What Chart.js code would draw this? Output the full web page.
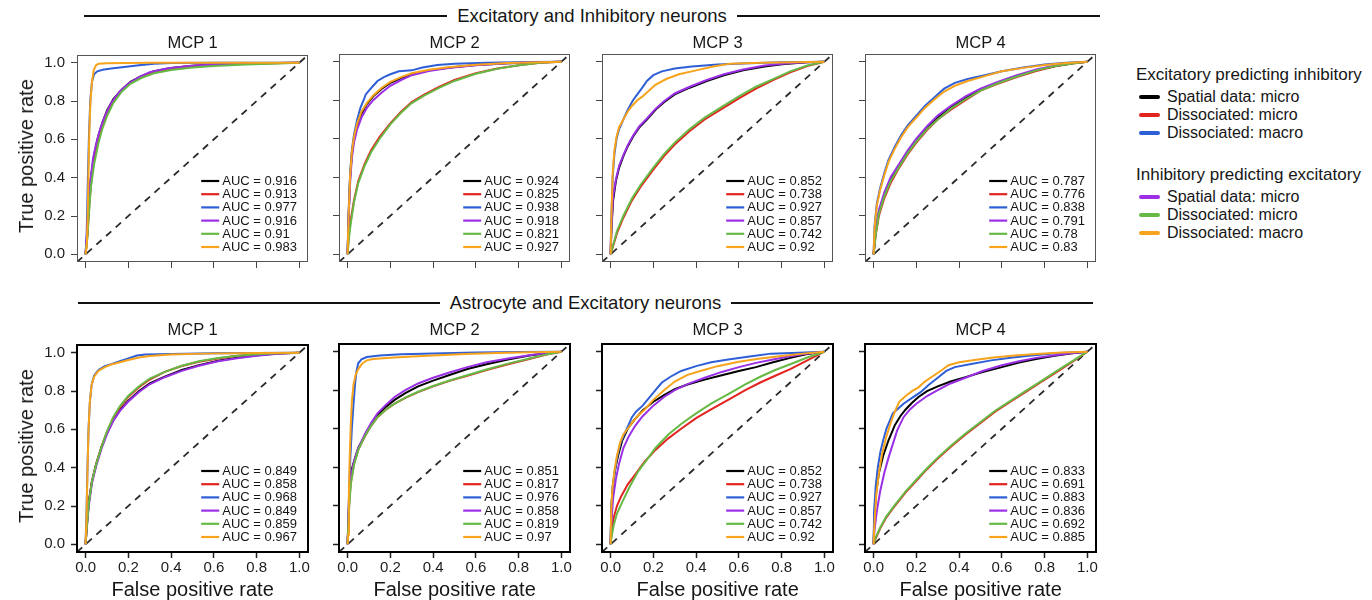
<!DOCTYPE html>
<html>
<head>
<meta charset="utf-8">
<script src="https://cdn.jsdelivr.net/npm/chart.js@4.4.1/dist/chart.umd.min.js"></script>
<style>
  html, body { margin: 0; padding: 0; background: #fff; }
  body { width: 1372px; height: 600px; position: relative; overflow: hidden;
         font-family: "Liberation Sans", Arial, Helvetica, sans-serif; color: #161616; }
  canvas { position: absolute; }
  .txt { position: absolute; white-space: nowrap; line-height: 24px; height: 24px; }
  .hdr { position: absolute; display: flex; align-items: center; height: 24px; }
  .hdr .rule { flex: 1; height: 2px; background: #111; }
  .hdr .label { padding: 0 10px; font-size: 18.5px; white-space: nowrap; }
  .ytitle { position: absolute; font-size: 20px; white-space: nowrap; line-height: 24px;
            transform: translate(-50%, -50%) rotate(-90deg); }
  .swatch { position: absolute; width: 21px; height: 4px; border-radius: 2px; }
</style>
</head>
<body>
<script>
// ---- series definitions ------------------------------------------------
const seriesColors = ['#000000', '#e3231f', '#2e5fd6', '#9a2fe6', '#66b944', '#f7a31c'];
const seriesNames  = ['Spatial data: micro', 'Dissociated: micro', 'Dissociated: macro',
                      'Spatial data: micro', 'Dissociated: micro', 'Dissociated: macro'];
const legendGroups = ['Excitatory predicting inhibitory', 'Inhibitory predicting excitatory'];
const rowTitles    = ['Excitatory and Inhibitory neurons', 'Astrocyte and Excitatory neurons'];
const panelTitles  = ['MCP 1', 'MCP 2', 'MCP 3', 'MCP 4'];
const axisTicks    = [0, 0.2, 0.4, 0.6, 0.8, 1.0];

// ---- AUC values (order: black, red, blue, purple, green, orange) -------
const aucEI1 = [0.916, 0.913, 0.977, 0.916, 0.91, 0.983];
const aucEI2 = [0.924, 0.825, 0.938, 0.918, 0.821, 0.927];
const aucEI3 = [0.852, 0.738, 0.927, 0.857, 0.742, 0.92];
const aucEI4 = [0.787, 0.776, 0.838, 0.791, 0.78, 0.83];
const aucAE1 = [0.849, 0.858, 0.968, 0.849, 0.859, 0.967];
const aucAE2 = [0.851, 0.817, 0.976, 0.858, 0.819, 0.97];
const aucAE3 = [0.852, 0.738, 0.927, 0.857, 0.742, 0.92];
const aucAE4 = [0.833, 0.691, 0.883, 0.836, 0.692, 0.885];

// ---- ROC curves: [false positive rate, true positive rate] -------------
// Excitatory and Inhibitory neurons
const ei1 = [
  [[0,0],[0.008,0.1],[0.015,0.25],[0.025,0.4],[0.04,0.52],[0.06,0.62],[0.08,0.69],[0.1,0.75],[0.13,0.81],[0.17,0.86],[0.21,0.9],[0.26,0.93],[0.32,0.955],[0.4,0.972],[0.5,0.984],[0.65,0.993],[0.8,0.997],[1,1]],
  [[0,0],[0.01,0.12],[0.018,0.27],[0.028,0.4],[0.04,0.5],[0.06,0.61],[0.08,0.68],[0.1,0.74],[0.13,0.8],[0.17,0.855],[0.21,0.895],[0.26,0.925],[0.32,0.95],[0.4,0.97],[0.5,0.982],[0.65,0.991],[0.8,0.996],[1,1]],
  [[0,0],[0.005,0.1],[0.01,0.35],[0.016,0.62],[0.022,0.8],[0.03,0.9],[0.04,0.94],[0.055,0.955],[0.08,0.963],[0.12,0.97],[0.18,0.978],[0.25,0.987],[0.32,0.994],[0.4,0.998],[0.6,1],[1,1]],
  [[0,0],[0.006,0.1],[0.012,0.22],[0.022,0.38],[0.035,0.5],[0.05,0.58],[0.07,0.66],[0.09,0.72],[0.12,0.79],[0.16,0.85],[0.2,0.89],[0.25,0.925],[0.3,0.95],[0.38,0.97],[0.48,0.983],[0.6,0.991],[0.8,0.997],[1,1]],
  [[0,0],[0.008,0.08],[0.015,0.2],[0.025,0.35],[0.04,0.47],[0.06,0.58],[0.08,0.66],[0.1,0.72],[0.13,0.79],[0.17,0.85],[0.21,0.89],[0.26,0.92],[0.32,0.945],[0.4,0.962],[0.5,0.975],[0.6,0.983],[0.75,0.99],[0.9,0.996],[1,1]],
  [[0,0],[0.006,0.05],[0.01,0.2],[0.014,0.45],[0.018,0.65],[0.023,0.8],[0.03,0.9],[0.038,0.96],[0.048,0.985],[0.06,0.994],[0.1,0.997],[0.3,0.999],[1,1]]
];
const ei2 = [
  [[0,0],[0.005,0.2],[0.012,0.4],[0.02,0.52],[0.03,0.6],[0.045,0.67],[0.065,0.73],[0.09,0.78],[0.12,0.82],[0.16,0.86],[0.2,0.89],[0.25,0.915],[0.3,0.935],[0.38,0.955],[0.48,0.97],[0.6,0.983],[0.75,0.992],[0.9,0.997],[1,1]],
  [[0,0],[0.006,0.1],[0.015,0.18],[0.03,0.28],[0.05,0.38],[0.08,0.47],[0.11,0.54],[0.15,0.61],[0.2,0.68],[0.25,0.74],[0.3,0.79],[0.36,0.83],[0.43,0.87],[0.5,0.905],[0.6,0.94],[0.7,0.965],[0.8,0.982],[0.9,0.994],[1,1]],
  [[0,0],[0.005,0.22],[0.012,0.42],[0.02,0.54],[0.03,0.62],[0.045,0.7],[0.06,0.76],[0.075,0.8],[0.085,0.83],[0.1,0.85],[0.12,0.875],[0.14,0.9],[0.17,0.92],[0.2,0.935],[0.24,0.95],[0.3,0.955],[0.35,0.97],[0.42,0.983],[0.5,0.99],[0.65,0.995],[0.85,0.998],[1,1]],
  [[0,0],[0.005,0.18],[0.012,0.37],[0.02,0.5],[0.03,0.58],[0.045,0.65],[0.065,0.71],[0.09,0.76],[0.12,0.8],[0.16,0.84],[0.2,0.875],[0.25,0.905],[0.3,0.93],[0.38,0.952],[0.48,0.968],[0.6,0.982],[0.75,0.992],[0.9,0.997],[1,1]],
  [[0,0],[0.006,0.08],[0.015,0.16],[0.03,0.27],[0.05,0.37],[0.08,0.46],[0.11,0.53],[0.15,0.6],[0.2,0.675],[0.25,0.735],[0.3,0.785],[0.36,0.825],[0.43,0.865],[0.5,0.9],[0.6,0.937],[0.7,0.963],[0.8,0.982],[0.9,0.994],[1,1]],
  [[0,0],[0.005,0.2],[0.012,0.41],[0.02,0.53],[0.03,0.61],[0.045,0.68],[0.065,0.74],[0.09,0.785],[0.12,0.825],[0.16,0.865],[0.2,0.895],[0.25,0.92],[0.3,0.94],[0.38,0.958],[0.48,0.972],[0.6,0.984],[0.75,0.993],[0.9,0.997],[1,1]]
];
const ei3 = [
  [[0,0],[0.005,0.15],[0.012,0.28],[0.025,0.38],[0.04,0.45],[0.06,0.51],[0.08,0.56],[0.105,0.61],[0.135,0.66],[0.17,0.7],[0.21,0.75],[0.25,0.79],[0.3,0.83],[0.37,0.865],[0.45,0.9],[0.53,0.93],[0.62,0.955],[0.72,0.975],[0.83,0.99],[0.92,0.997],[1,1]],
  [[0,0],[0.01,0.035],[0.03,0.11],[0.06,0.19],[0.1,0.28],[0.14,0.35],[0.2,0.44],[0.25,0.51],[0.3,0.57],[0.37,0.64],[0.44,0.7],[0.52,0.755],[0.6,0.81],[0.68,0.86],[0.76,0.905],[0.84,0.945],[0.92,0.978],[1,1]],
  [[0,0],[0.004,0.2],[0.01,0.4],[0.018,0.52],[0.028,0.6],[0.04,0.65],[0.06,0.7],[0.08,0.75],[0.105,0.8],[0.125,0.83],[0.145,0.86],[0.17,0.9],[0.2,0.93],[0.24,0.95],[0.3,0.965],[0.38,0.975],[0.5,0.985],[0.65,0.992],[0.8,0.997],[1,1]],
  [[0,0],[0.005,0.17],[0.012,0.3],[0.025,0.39],[0.04,0.46],[0.06,0.515],[0.08,0.565],[0.105,0.615],[0.135,0.665],[0.17,0.705],[0.21,0.755],[0.25,0.795],[0.3,0.835],[0.37,0.87],[0.45,0.905],[0.53,0.935],[0.62,0.96],[0.72,0.98],[0.83,0.992],[0.92,0.997],[1,1]],
  [[0,0],[0.01,0.04],[0.03,0.12],[0.06,0.2],[0.1,0.29],[0.14,0.36],[0.2,0.45],[0.25,0.52],[0.3,0.58],[0.37,0.65],[0.44,0.71],[0.52,0.765],[0.6,0.82],[0.68,0.87],[0.76,0.91],[0.84,0.95],[0.92,0.98],[1,1]],
  [[0,0],[0.004,0.2],[0.01,0.42],[0.018,0.54],[0.028,0.61],[0.04,0.66],[0.06,0.7],[0.08,0.74],[0.1,0.77],[0.125,0.8],[0.15,0.82],[0.18,0.85],[0.21,0.88],[0.26,0.91],[0.32,0.935],[0.4,0.955],[0.48,0.975],[0.56,0.99],[0.7,0.995],[1,1]]
];
const ei4 = [
  [[0,0],[0.01,0.12],[0.025,0.22],[0.05,0.31],[0.08,0.39],[0.12,0.46],[0.16,0.53],[0.2,0.59],[0.25,0.655],[0.3,0.71],[0.36,0.76],[0.43,0.81],[0.5,0.855],[0.58,0.89],[0.67,0.925],[0.76,0.955],[0.85,0.978],[0.93,0.992],[1,1]],
  [[0,0],[0.01,0.1],[0.025,0.2],[0.05,0.29],[0.08,0.37],[0.12,0.45],[0.16,0.52],[0.2,0.58],[0.25,0.645],[0.3,0.7],[0.36,0.75],[0.43,0.8],[0.5,0.85],[0.58,0.885],[0.67,0.92],[0.76,0.952],[0.85,0.976],[0.93,0.99],[1,1]],
  [[0,0],[0.005,0.15],[0.015,0.26],[0.03,0.34],[0.05,0.42],[0.07,0.49],[0.1,0.56],[0.13,0.62],[0.16,0.67],[0.2,0.72],[0.24,0.77],[0.28,0.81],[0.33,0.86],[0.38,0.89],[0.44,0.91],[0.52,0.93],[0.6,0.95],[0.7,0.97],[0.8,0.985],[0.9,0.995],[1,1]],
  [[0,0],[0.01,0.13],[0.025,0.23],[0.05,0.32],[0.08,0.4],[0.12,0.47],[0.16,0.54],[0.2,0.6],[0.25,0.665],[0.3,0.72],[0.36,0.77],[0.43,0.82],[0.5,0.86],[0.58,0.895],[0.67,0.93],[0.76,0.96],[0.85,0.98],[0.93,0.993],[1,1]],
  [[0,0],[0.01,0.1],[0.025,0.21],[0.05,0.3],[0.08,0.38],[0.12,0.455],[0.16,0.525],[0.2,0.585],[0.25,0.65],[0.3,0.7],[0.36,0.755],[0.43,0.805],[0.5,0.85],[0.58,0.888],[0.67,0.923],[0.76,0.955],[0.85,0.978],[0.93,0.99],[1,1]],
  [[0,0],[0.005,0.14],[0.015,0.25],[0.03,0.33],[0.05,0.41],[0.07,0.48],[0.1,0.55],[0.13,0.61],[0.16,0.66],[0.2,0.71],[0.24,0.76],[0.28,0.8],[0.33,0.845],[0.38,0.875],[0.44,0.9],[0.52,0.925],[0.6,0.95],[0.7,0.968],[0.8,0.983],[0.9,0.993],[1,1]]
];
// Astrocyte and Excitatory neurons
const ae1 = [
  [[0,0],[0.006,0.1],[0.015,0.22],[0.03,0.33],[0.05,0.42],[0.075,0.51],[0.1,0.58],[0.13,0.65],[0.16,0.7],[0.2,0.75],[0.25,0.8],[0.3,0.84],[0.37,0.875],[0.45,0.91],[0.53,0.935],[0.62,0.958],[0.7,0.972],[0.8,0.986],[0.9,0.995],[1,1]],
  [[0,0],[0.006,0.1],[0.015,0.22],[0.03,0.33],[0.05,0.42],[0.075,0.51],[0.1,0.585],[0.13,0.66],[0.16,0.715],[0.2,0.77],[0.25,0.82],[0.3,0.86],[0.37,0.9],[0.45,0.93],[0.53,0.953],[0.62,0.97],[0.7,0.982],[0.8,0.992],[0.9,0.997],[1,1]],
  [[0,0],[0.004,0.15],[0.009,0.4],[0.014,0.6],[0.02,0.74],[0.028,0.83],[0.04,0.88],[0.06,0.91],[0.09,0.93],[0.12,0.94],[0.16,0.955],[0.2,0.97],[0.24,0.985],[0.28,0.99],[0.4,0.993],[0.6,0.997],[1,1]],
  [[0,0],[0.006,0.09],[0.015,0.2],[0.03,0.32],[0.05,0.41],[0.075,0.5],[0.1,0.575],[0.13,0.645],[0.16,0.695],[0.2,0.745],[0.25,0.795],[0.3,0.835],[0.37,0.872],[0.45,0.905],[0.53,0.932],[0.62,0.955],[0.7,0.97],[0.8,0.984],[0.9,0.994],[1,1]],
  [[0,0],[0.006,0.09],[0.015,0.21],[0.03,0.33],[0.05,0.42],[0.075,0.51],[0.1,0.59],[0.13,0.665],[0.16,0.72],[0.2,0.775],[0.25,0.825],[0.3,0.865],[0.37,0.9],[0.45,0.932],[0.53,0.955],[0.62,0.972],[0.7,0.983],[0.8,0.992],[0.9,0.997],[1,1]],
  [[0,0],[0.004,0.12],[0.009,0.38],[0.014,0.6],[0.02,0.74],[0.028,0.83],[0.04,0.875],[0.06,0.905],[0.09,0.925],[0.12,0.938],[0.16,0.95],[0.2,0.962],[0.25,0.975],[0.3,0.982],[0.4,0.99],[0.55,0.995],[0.8,0.998],[1,1]]
];
const ae2 = [
  [[0,0],[0.004,0.1],[0.008,0.3],[0.015,0.37],[0.03,0.43],[0.05,0.5],[0.08,0.56],[0.11,0.62],[0.14,0.67],[0.18,0.715],[0.22,0.75],[0.27,0.785],[0.33,0.82],[0.4,0.85],[0.48,0.88],[0.56,0.91],[0.65,0.935],[0.75,0.96],[0.85,0.98],[0.93,0.992],[1,1]],
  [[0,0],[0.003,0.1],[0.008,0.22],[0.015,0.32],[0.03,0.42],[0.05,0.49],[0.08,0.56],[0.11,0.615],[0.14,0.66],[0.18,0.7],[0.22,0.73],[0.27,0.76],[0.33,0.79],[0.4,0.82],[0.48,0.85],[0.56,0.875],[0.65,0.905],[0.75,0.935],[0.85,0.962],[0.93,0.985],[1,1]],
  [[0,0],[0.003,0.1],[0.008,0.3],[0.013,0.45],[0.02,0.6],[0.028,0.73],[0.035,0.83],[0.042,0.9],[0.05,0.94],[0.065,0.96],[0.09,0.972],[0.15,0.98],[0.25,0.987],[0.4,0.991],[0.6,0.996],[0.8,0.999],[1,1]],
  [[0,0],[0.004,0.1],[0.008,0.25],[0.015,0.35],[0.03,0.43],[0.05,0.5],[0.08,0.57],[0.11,0.63],[0.14,0.68],[0.18,0.725],[0.22,0.765],[0.27,0.8],[0.33,0.835],[0.4,0.865],[0.48,0.893],[0.56,0.92],[0.65,0.945],[0.75,0.965],[0.85,0.982],[0.93,0.993],[1,1]],
  [[0,0],[0.003,0.08],[0.008,0.2],[0.015,0.31],[0.03,0.41],[0.05,0.49],[0.08,0.56],[0.11,0.615],[0.14,0.66],[0.18,0.7],[0.22,0.73],[0.27,0.762],[0.33,0.792],[0.4,0.822],[0.48,0.852],[0.56,0.878],[0.65,0.908],[0.75,0.938],[0.85,0.965],[0.93,0.986],[1,1]],
  [[0,0],[0.003,0.05],[0.006,0.25],[0.01,0.45],[0.015,0.62],[0.02,0.74],[0.028,0.83],[0.038,0.88],[0.05,0.91],[0.07,0.94],[0.09,0.955],[0.12,0.962],[0.2,0.968],[0.3,0.975],[0.4,0.98],[0.55,0.988],[0.7,0.993],[0.85,0.997],[1,1]]
];
const ae3 = [
  [[0,0],[0.004,0.2],[0.01,0.3],[0.02,0.38],[0.035,0.46],[0.055,0.54],[0.08,0.6],[0.11,0.645],[0.15,0.695],[0.2,0.74],[0.25,0.775],[0.3,0.805],[0.36,0.83],[0.44,0.855],[0.52,0.878],[0.6,0.9],[0.68,0.92],[0.76,0.945],[0.84,0.968],[0.92,0.988],[1,1]],
  [[0,0],[0.005,0.06],[0.015,0.14],[0.03,0.2],[0.05,0.25],[0.08,0.31],[0.12,0.37],[0.16,0.43],[0.21,0.49],[0.27,0.55],[0.33,0.6],[0.4,0.655],[0.47,0.7],[0.55,0.75],[0.63,0.8],[0.7,0.84],[0.77,0.875],[0.84,0.91],[0.92,0.955],[1,1]],
  [[0,0],[0.003,0.15],[0.008,0.25],[0.018,0.36],[0.03,0.45],[0.045,0.52],[0.06,0.56],[0.08,0.61],[0.1,0.66],[0.12,0.69],[0.15,0.72],[0.18,0.76],[0.21,0.8],[0.24,0.84],[0.28,0.87],[0.33,0.9],[0.4,0.925],[0.47,0.945],[0.55,0.96],[0.65,0.975],[0.75,0.99],[0.88,0.995],[1,1]],
  [[0,0],[0.004,0.12],[0.012,0.24],[0.025,0.34],[0.04,0.42],[0.06,0.5],[0.085,0.56],[0.115,0.615],[0.15,0.665],[0.2,0.72],[0.25,0.765],[0.3,0.8],[0.36,0.832],[0.44,0.865],[0.52,0.895],[0.6,0.92],[0.68,0.942],[0.76,0.96],[0.84,0.976],[0.92,0.99],[1,1]],
  [[0,0],[0.005,0.04],[0.015,0.1],[0.03,0.16],[0.055,0.22],[0.09,0.3],[0.13,0.38],[0.17,0.44],[0.21,0.5],[0.27,0.57],[0.33,0.625],[0.4,0.68],[0.47,0.73],[0.55,0.78],[0.63,0.83],[0.7,0.87],[0.77,0.905],[0.84,0.935],[0.92,0.97],[1,1]],
  [[0,0],[0.003,0.18],[0.008,0.28],[0.018,0.38],[0.03,0.46],[0.045,0.53],[0.06,0.57],[0.08,0.6],[0.1,0.63],[0.13,0.67],[0.16,0.7],[0.2,0.75],[0.25,0.8],[0.3,0.845],[0.36,0.88],[0.42,0.9],[0.5,0.925],[0.6,0.948],[0.7,0.965],[0.8,0.978],[0.9,0.99],[1,1]]
];
const ae4 = [
  [[0,0],[0.004,0.15],[0.012,0.27],[0.025,0.37],[0.045,0.46],[0.07,0.54],[0.1,0.62],[0.125,0.665],[0.15,0.7],[0.18,0.735],[0.21,0.765],[0.25,0.795],[0.3,0.82],[0.36,0.845],[0.43,0.868],[0.51,0.895],[0.6,0.92],[0.68,0.944],[0.76,0.962],[0.84,0.978],[0.92,0.99],[1,1]],
  [[0,0],[0.01,0.03],[0.03,0.08],[0.06,0.14],[0.1,0.2],[0.15,0.27],[0.2,0.33],[0.25,0.39],[0.3,0.445],[0.36,0.505],[0.43,0.57],[0.5,0.63],[0.57,0.69],[0.64,0.74],[0.71,0.79],[0.78,0.84],[0.85,0.89],[0.92,0.94],[1,1]],
  [[0,0],[0.003,0.18],[0.01,0.3],[0.02,0.4],[0.032,0.48],[0.045,0.54],[0.06,0.6],[0.075,0.64],[0.09,0.68],[0.11,0.7],[0.14,0.73],[0.18,0.76],[0.22,0.79],[0.26,0.83],[0.3,0.865],[0.34,0.9],[0.38,0.92],[0.45,0.935],[0.55,0.955],[0.65,0.97],[0.75,0.982],[0.85,0.992],[1,1]],
  [[0,0],[0.005,0.08],[0.015,0.17],[0.03,0.27],[0.05,0.37],[0.07,0.45],[0.09,0.52],[0.11,0.59],[0.14,0.66],[0.17,0.7],[0.2,0.73],[0.25,0.77],[0.3,0.8],[0.36,0.835],[0.43,0.865],[0.51,0.9],[0.6,0.93],[0.68,0.95],[0.76,0.968],[0.84,0.98],[0.92,0.992],[1,1]],
  [[0,0],[0.01,0.035],[0.03,0.085],[0.06,0.145],[0.1,0.205],[0.15,0.275],[0.2,0.335],[0.25,0.395],[0.3,0.45],[0.36,0.51],[0.43,0.575],[0.5,0.635],[0.57,0.695],[0.64,0.745],[0.71,0.795],[0.78,0.845],[0.85,0.895],[0.92,0.945],[1,1]],
  [[0,0],[0.004,0.1],[0.012,0.25],[0.025,0.37],[0.04,0.47],[0.06,0.56],[0.08,0.63],[0.1,0.69],[0.12,0.74],[0.15,0.77],[0.18,0.795],[0.21,0.815],[0.24,0.845],[0.28,0.875],[0.32,0.905],[0.35,0.93],[0.4,0.945],[0.48,0.958],[0.56,0.97],[0.66,0.98],[0.76,0.988],[0.88,0.996],[1,1]]
];

const panelCurves = [[ei1, ei2, ei3, ei4], [ae1, ae2, ae3, ae4]];
const panelAucs   = [[aucEI1, aucEI2, aucEI3, aucEI4], [aucAE1, aucAE2, aucAE3, aucAE4]];

// ---- layout --------------------------------------------------------------
const FONT = '"Liberation Sans", Arial, Helvetica, sans-serif';
const boxLeft = [77, 339, 602, 865];
const boxTop  = [54, 344];
const BOX_W = 231, BOX_H = 208;
// generous top/right margins so tick-label overhang never squeezes the scales
const ML = 48, MR = 14, MT = 14, MB = 46;
const AXIS_MIN = -0.04, AXIS_MAX = 1.04;

function addText(cls, text, left, top, css) {
  const d = document.createElement('div');
  d.className = cls;
  d.textContent = text;
  d.style.left = left + 'px';
  d.style.top = top + 'px';
  Object.assign(d.style, css || {});
  document.body.appendChild(d);
  return d;
}

// row headers with rules on both sides
const headerSpans = [{ left: 84, right: 1100, y: 16 }, { left: 78, right: 1093, y: 303 }];
rowTitles.forEach((t, r) => {
  const h = document.createElement('div');
  h.className = 'hdr';
  const s = headerSpans[r];
  h.style.left = s.left + 'px';
  h.style.width = (s.right - s.left) + 'px';
  h.style.top = (s.y - 12) + 'px';
  h.innerHTML = '<div class="rule"></div><div class="label"></div><div class="rule"></div>';
  h.querySelector('.label').textContent = t;
  document.body.appendChild(h);
});

// frame around each plotting region
const framePlugin = {
  id: 'frame',
  afterDatasetsDraw(chart, args, opts) {
    const { ctx, chartArea: a } = chart;
    ctx.save();
    ctx.strokeStyle = opts.color;
    ctx.lineWidth = opts.width;
    const off = opts.width % 2 ? 0.5 : 0;
    ctx.strokeRect(Math.round(a.left) + off, Math.round(a.top) + off,
                   Math.round(a.width) - 2 * off, Math.round(a.height) - 2 * off);
    ctx.restore();
  }
};

// AUC key in the lower right corner of each panel
const aucKeyPlugin = {
  id: 'aucKey',
  afterDatasetsDraw(chart) {
    const { ctx, chartArea: a } = chart;
    const items = chart.data.datasets.filter(d => d.label);
    ctx.save();
    ctx.font = '13px ' + FONT;
    const tw = Math.max(...items.map(d => ctx.measureText(d.label).width));
    const tx = a.right - 11 - tw;
    const step = 13.2;
    items.forEach((d, i) => {
      const y = a.bottom - 15 - (items.length - 1 - i) * step;
      ctx.strokeStyle = d.borderColor;
      ctx.lineWidth = 2.2;
      ctx.beginPath();
      ctx.moveTo(tx - 21, y);
      ctx.lineTo(tx - 3, y);
      ctx.stroke();
      ctx.fillStyle = '#151515';
      ctx.textBaseline = 'middle';
      ctx.textAlign = 'left';
      ctx.fillText(d.label, tx, y + 0.5);
    });
    ctx.restore();
  }
};

function buildPanel(row, col) {
  const curves = panelCurves[row][col];
  const aucs = panelAucs[row][col];
  const cv = document.createElement('canvas');
  const W = BOX_W + ML + MR, H = BOX_H + MT + MB;
  cv.width = W; cv.height = H;
  cv.style.left = (boxLeft[col] - ML) + 'px';
  cv.style.top = (boxTop[row] - MT) + 'px';
  cv.style.width = W + 'px';
  cv.style.height = H + 'px';
  document.body.appendChild(cv);

  const datasets = curves.map((pts, i) => ({
    label: 'AUC = ' + aucs[i],
    data: pts,
    borderColor: seriesColors[i],
    borderWidth: 2,
    pointRadius: 0,
    tension: 0,
    fill: false,
    order: 6 - i
  }));
  datasets.push({
    data: [[AXIS_MIN, AXIS_MIN], [AXIS_MAX, AXIS_MAX]],
    borderColor: '#2a2a2a',
    borderWidth: 1.8,
    borderDash: [7, 6],
    pointRadius: 0,
    fill: false,
    order: 10
  });

  const bold = row === 1;
  const tickColor = bold ? '#222' : '#444';
  const axisCommon = {
    type: 'linear',
    min: AXIS_MIN,
    max: AXIS_MAX,
    bounds: 'data',
    afterBuildTicks: s => { s.ticks = axisTicks.map(v => ({ value: v })); },
    border: { display: false },
    grid: { drawOnChartArea: false, drawTicks: true, tickLength: 6,
            color: tickColor, tickColor: tickColor, tickWidth: bold ? 1.5 : 1 }
  };

  new Chart(cv, {
    type: 'line',
    data: { datasets },
    options: {
      responsive: false,
      animation: false,
      devicePixelRatio: 1,
      layout: { padding: { top: MT, right: MR, left: 0, bottom: 0 }, autoPadding: false },
      plugins: {
        legend: { display: false },
        tooltip: { enabled: false },
        frame: { color: bold ? '#000' : '#555', width: bold ? 2 : 1 }
      },
      scales: {
        x: Object.assign({}, axisCommon, {
          position: 'bottom',
          afterFit: s => { s.height = MB; },
          ticks: { display: row === 1, autoSkip: false, maxRotation: 0, padding: 1,
                   color: '#1c1c1c', font: { size: 15, family: FONT },
                   callback: v => v.toFixed(1) }
        }),
        y: Object.assign({}, axisCommon, {
          position: 'left',
          afterFit: s => { s.width = ML; },
          ticks: { display: col === 0, autoSkip: false, padding: 6,
                   color: '#1c1c1c', font: { size: 15, family: FONT },
                   callback: v => v.toFixed(1) }
        })
      }
    },
    plugins: [framePlugin, aucKeyPlugin]
  });

  // panel title
  const cx = boxLeft[col] + BOX_W / 2;
  const t = addText('txt', panelTitles[col], 0, (row === 0 ? 42 : 329) - 12,
                    { fontSize: '16.5px' });
  t.style.left = (cx - t.offsetWidth / 2) + 'px';

  if (row === 1) {
    const xt = addText('txt', 'False positive rate', 0, 589 - 12, { fontSize: '20px' });
    xt.style.left = (cx - xt.offsetWidth / 2) + 'px';
  }
  if (col === 0) {
    addText('ytitle', 'True positive rate', 26, boxTop[row] + BOX_H / 2 - 2);
  }
}

for (let r = 0; r < 2; r++) for (let c = 0; c < 4; c++) buildPanel(r, c);

// series key on the right
const groupTop = [75, 175];
const rowGap = 18.3;
legendGroups.forEach((g, gi) => {
  addText('txt', g, 1136, groupTop[gi] - 12, { fontSize: '17px' });
  for (let k = 0; k < 3; k++) {
    const idx = gi * 3 + k;
    const y = groupTop[gi] + 21.5 + k * rowGap;
    const sw = document.createElement('div');
    sw.className = 'swatch';
    sw.style.left = '1139px';
    sw.style.top = (y - 2) + 'px';
    sw.style.background = seriesColors[idx];
    document.body.appendChild(sw);
    addText('txt', seriesNames[idx], 1167, y - 12, { fontSize: '16px' });
  }
});
</script>
</body>
</html>
